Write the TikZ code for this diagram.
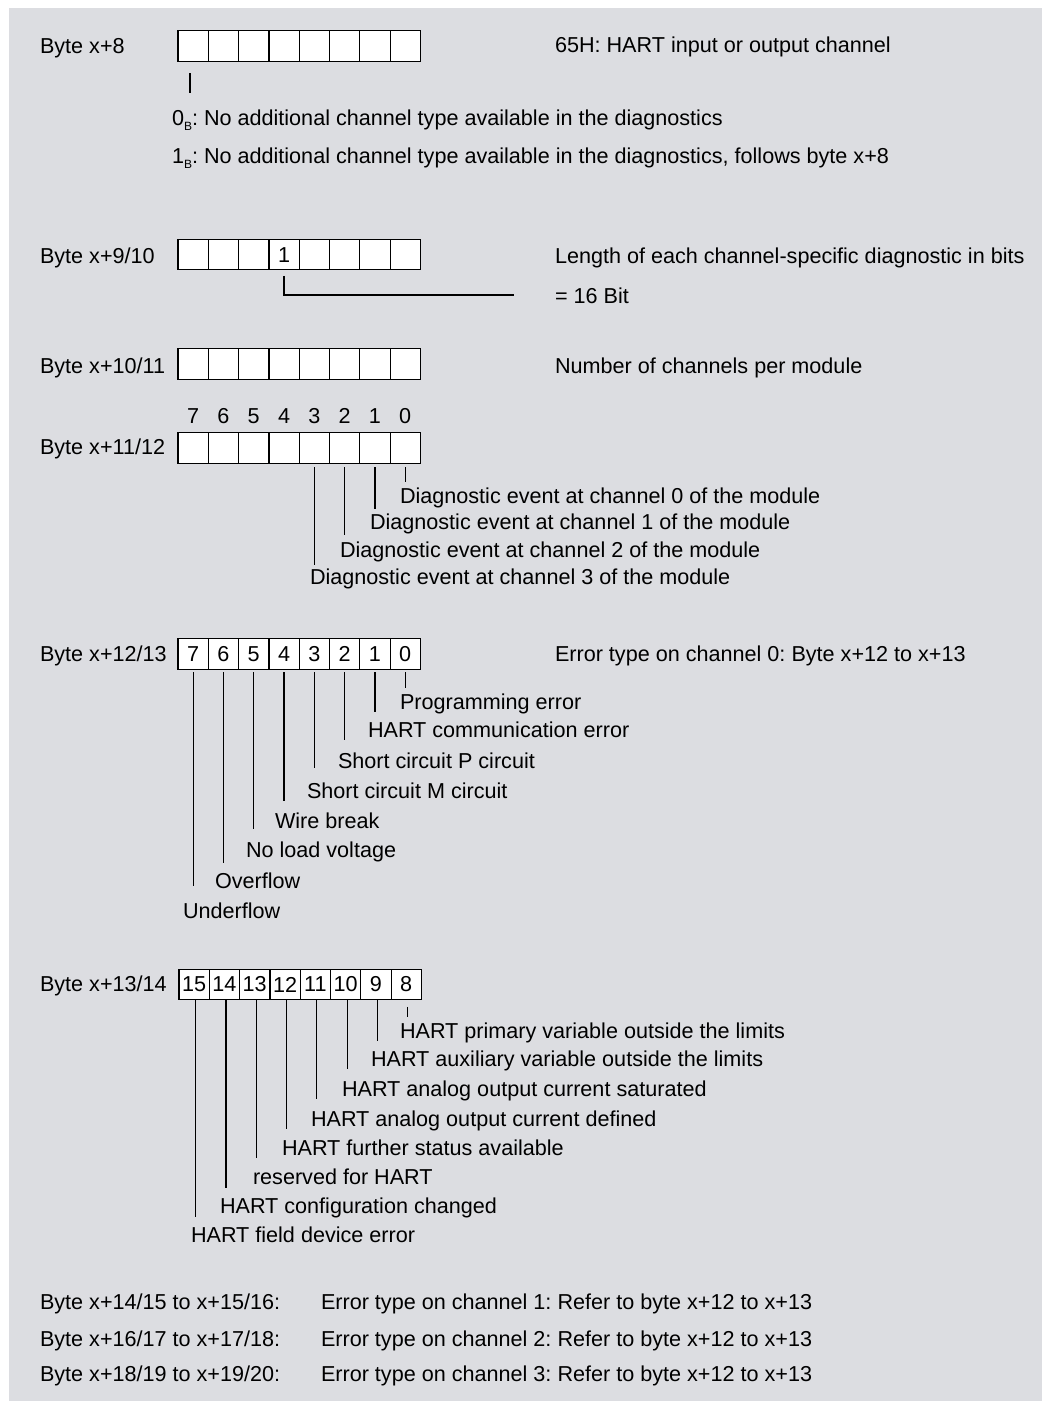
\documentclass[tikz,border=0pt]{standalone}
\usepackage{fontspec}
\setmainfont{Liberation Sans}
\definecolor{bgc}{RGB}{220,221,225}
\frenchspacing
\begin{document}
\begin{tikzpicture}[x=1pt,y=-1pt,
  cell/.style={draw=black, line width=1.2pt, fill=white, minimum width=30.3pt, minimum height=30.5pt, inner sep=0pt, outer sep=0pt, font=\fontsize{21.6}{26}\selectfont},
  lbl/.style={anchor=base west, inner sep=0pt, outer sep=0pt, font=\fontsize{21.6}{26}\selectfont, text=black},
  dig/.style={anchor=base, inner sep=0pt, outer sep=0pt, font=\fontsize{21.6}{26}\selectfont, text=black},
  conn/.style={line width=1.2pt, draw=black},
]
\useasboundingbox (0,0) rectangle (1042,1401);
\fill[bgc] (9,8) rectangle (1042,1401);

% ---------- Row 1: Byte x+8
\foreach \i in {0,...,7} \node[cell] (r1-\i) at ({178+30.3*(\i+0.5)},46) {};
\node[lbl] (l1) at (40,53) {Byte x+8};
\node[lbl] (d1) at (555,52) {65H: HART input or output channel};
\coordinate (t1a) at (190,73);
\coordinate (t1b) at (190,93);
\draw[conn] (t1a) -- (t1b);
\node[lbl] (n1a) at (172,125) {0\raisebox{-0.45ex}{\fontsize{12}{14}\selectfont B}: No additional channel type available in the diagnostics};
\node[lbl] (n1b) at (172,163) {1\raisebox{-0.45ex}{\fontsize{12}{14}\selectfont B}: No additional channel type available in the diagnostics, follows byte x+8};

% ---------- Row 2: Byte x+9/10
\foreach \i in {0,...,7} \node[cell] (r2-\i) at ({178+30.3*(\i+0.5)},254.5) {};
\node[dig] (one) at ([yshift=-7.5pt]r2-3.center) {1};
\node[lbl] (l2) at (40,263) {Byte x+9/10};
\node[lbl] (d2) at (555,263) {Length of each channel-specific diagnostic in bits};
\node[lbl] (d2b) at (555,303) {= 16 Bit};
\coordinate (e2) at (514,295);
\draw[conn] ([yshift=-6pt]r2-3.south) |- (e2);

% ---------- Row 3: Byte x+10/11
\foreach \i in {0,...,7} \node[cell] (r3-\i) at ({178+30.3*(\i+0.5)},364) {};
\node[lbl] (l3) at (40,373) {Byte x+10/11};
\node[lbl] (d3) at (555,373) {Number of channels per module};

% ---------- Row 4: Byte x+11/12
\foreach \i in {0,...,7} \node[cell] (r4-\i) at ({178+30.3*(\i+0.5)},448) {};
\foreach \i/\t in {0/7,1/6,2/5,3/4,4/3,5/2,6/1,7/0}
  \node[dig] (h4-\i) at (r4-\i.center |- 0,423) {\t};
\node[lbl] (l4) at (40,454) {Byte x+11/12};
\foreach \i/\yb in {7/482,6/509,5/535,4/565}
  \coordinate (e4-\i) at (r4-\i.center |- 0,\yb);
\foreach \i in {4,...,7}
  \draw[conn] ([yshift=-4pt]r4-\i.south) -- (e4-\i);
\node[lbl] (t4-7) at (400,503) {Diagnostic event at channel 0 of the module};
\node[lbl] (t4-6) at (370,529) {Diagnostic event at channel 1 of the module};
\node[lbl] (t4-5) at (340,557) {Diagnostic event at channel 2 of the module};
\node[lbl] (t4-4) at (310,584) {Diagnostic event at channel 3 of the module};

% ---------- Row 5: Byte x+12/13
\foreach \i/\t in {0/7,1/6,2/5,3/4,4/3,5/2,6/1,7/0}
  \node[cell] (r5-\i) at ({178+30.3*(\i+0.5)},654) {\t};
\node[lbl] (l5) at (40,661) {Byte x+12/13};
\node[lbl] (d5) at (555,661) {Error type on channel 0: Byte x+12 to x+13};
\foreach \i/\yb in {0/886,1/863,2/829,3/801,4/768,5/740,6/712,7/688}
  \coordinate (e5-\i) at (r5-\i.center |- 0,\yb);
\foreach \i in {0,...,7}
  \draw[conn] ([yshift=-3pt]r5-\i.south) -- (e5-\i);
\node[lbl] (t5-7) at (400,709) {Programming error};
\node[lbl] (t5-6) at (368,737) {HART communication error};
\node[lbl] (t5-5) at (338,768) {Short circuit P circuit};
\node[lbl] (t5-4) at (307,798) {Short circuit M circuit};
\node[lbl] (t5-3) at (275,828) {Wire break};
\node[lbl] (t5-2) at (246,857) {No load voltage};
\node[lbl] (t5-1) at (215,888) {Overflow};
\node[lbl] (t5-0) at (183,918) {Underflow};

% ---------- Row 6: Byte x+13/14
\foreach \i/\t in {0/15,1/14,2/13,3/12,4/11,5/10,6/9,7/8}
  \node[cell] (r6-\i) at ({179+30.3*(\i+0.5)},984.5) {\t};
\node[lbl] (l6) at (40,991) {Byte x+13/14};
\foreach \i/\yb in {0/1217,1/1188,2/1158,3/1129,4/1099,5/1069,6/1041,7/1017}
  \coordinate (e6-\i) at ([xshift=1.5pt]r6-\i.center |- 0,\yb);
\foreach \i in {0,...,6}
  \draw[conn] ([xshift=1.5pt]r6-\i.south) -- (e6-\i);
\draw[conn] ([xshift=1.5pt,yshift=-7pt]r6-7.south) -- (e6-7);
\node[lbl] (t6-7) at (400,1038) {HART primary variable outside the limits};
\node[lbl] (t6-6) at (371,1066) {HART auxiliary variable outside the limits};
\node[lbl] (t6-5) at (342,1096) {HART analog output current saturated};
\node[lbl] (t6-4) at (311,1126) {HART analog output current defined};
\node[lbl] (t6-3) at (282,1155) {HART further status available};
\node[lbl] (t6-2) at (253,1184) {reserved for HART};
\node[lbl] (t6-1) at (220,1213) {HART configuration changed};
\node[lbl] (t6-0) at (191,1242) {HART field device error};

% ---------- Bottom rows
\node[lbl] (b1) at (40,1309) {Byte x+14/15 to x+15/16:};
\node[lbl] (b2) at (40,1346) {Byte x+16/17 to x+17/18:};
\node[lbl] (b3) at (40,1381) {Byte x+18/19 to x+19/20:};
\node[lbl] (c1) at (321,1309) {Error type on channel 1: Refer to byte x+12 to x+13};
\node[lbl] (c2) at (321,1346) {Error type on channel 2: Refer to byte x+12 to x+13};
\node[lbl] (c3) at (321,1381) {Error type on channel 3: Refer to byte x+12 to x+13};
\end{tikzpicture}
\end{document}
